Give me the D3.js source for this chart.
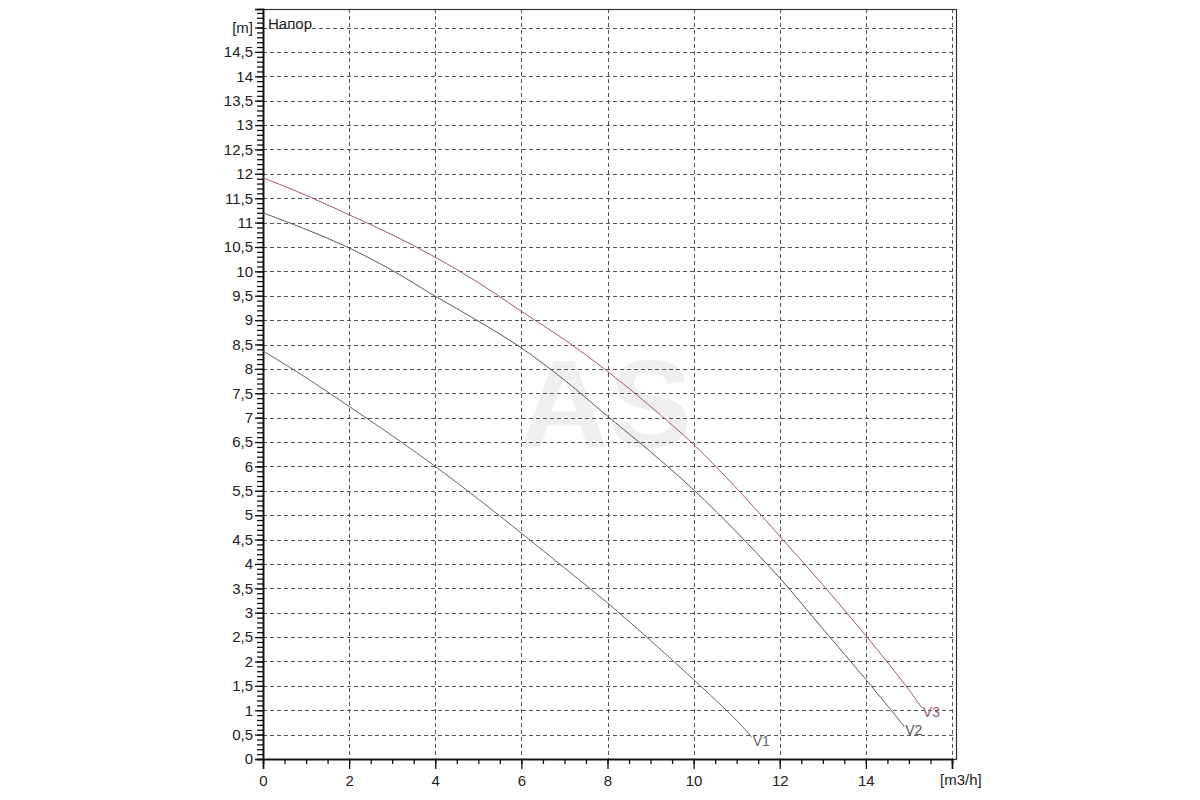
<!DOCTYPE html>
<html>
<head>
<meta charset="utf-8">
<script src="https://cdnjs.cloudflare.com/ajax/libs/d3/7.8.5/d3.min.js"></script>
<style>
  body { margin: 0; background: #fff; }
  svg text { font-family: "Liberation Sans", Arial, sans-serif; }
</style>
</head>
<body>
<div id="chart"></div>
<script>
// pump curves: flow [m3/h] vs head [m]
var v1Flow = [0, 1, 2, 3, 4, 5, 6, 7, 8, 9, 10, 11, 11.35];
var v1Head = [8.37, 7.82, 7.23, 6.63, 6.0, 5.33, 4.63, 3.92, 3.2, 2.43, 1.63, 0.79, 0.45];

var v2Flow = [0, 1, 2, 3, 4, 5, 6, 7, 8, 9, 10, 11, 12, 13, 14, 14.89];
var v2Head = [11.2, 10.86, 10.48, 10.02, 9.49, 8.98, 8.43, 7.77, 7.03, 6.3, 5.52, 4.65, 3.71, 2.67, 1.63, 0.67];

var v3Flow = [0, 1, 2, 3, 4, 5, 6, 7, 8, 9, 10, 11, 12, 13, 14, 15, 15.3];
var v3Head = [11.92, 11.56, 11.16, 10.75, 10.29, 9.77, 9.18, 8.6, 7.95, 7.23, 6.45, 5.55, 4.57, 3.57, 2.53, 1.42, 1.05];

var seriesNames = ["V1", "V2", "V3"];
var seriesColors = ["#666666", "#585858", "#a05868"];

var xMajor = d3.range(0, 16.01, 2);      // 0..16
var yMajor = d3.range(0, 15.01, 0.5);    // 0..15

var svgWidth = 1200;
var svgHeight = 800;

// plot edges (note: "top" is reserved on window)
var plotLeft = 263, plotRight = 952, plotTop = 9, plotBottom = 759;

var svg = d3.select("#chart").append("svg")
  .attr("width", svgWidth)
  .attr("height", svgHeight);

var xScale = d3.scaleLinear().domain([0, 16]).range([plotLeft, plotRight]);
var yScale = d3.scaleLinear().domain([0, 15.38]).range([plotBottom, plotTop]);

// watermark
svg.append("text")
  .attr("x", (xScale(6) + xScale(10)) / 2 - 2)
  .attr("y", yScale(6.4))
  .attr("text-anchor", "middle")
  .attr("font-size", 124)
  .attr("font-weight", "bold")
  .attr("fill", "#efefef")
  .text("AS");

// grid
var grid = svg.append("g").attr("stroke", "#555").attr("stroke-width", 1)
  .attr("stroke-dasharray", "4,3").attr("shape-rendering", "crispEdges");

grid.selectAll(".hg")
  .data(yMajor.filter(function(d) { return d > 0; }))
  .enter().append("line")
  .attr("x1", plotLeft).attr("x2", plotRight + 3)
  .attr("y1", function(d) { return Math.round(yScale(d)) + 0.5; })
  .attr("y2", function(d) { return Math.round(yScale(d)) + 0.5; });

grid.selectAll(".vg")
  .data(xMajor.filter(function(d) { return d > 0; }))
  .enter().append("line")
  .attr("y1", plotTop).attr("y2", plotBottom)
  .attr("x1", function(d) { return Math.round(xScale(d)) + 0.5; })
  .attr("x2", function(d) { return Math.round(xScale(d)) + 0.5; });

// frame
svg.append("rect")
  .attr("x", plotLeft + 0.5).attr("y", plotTop + 0.5)
  .attr("width", plotRight + 4 - plotLeft).attr("height", plotBottom - plotTop)
  .attr("fill", "none").attr("stroke", "#333").attr("stroke-width", 1.2);

// axes
var yAxisMinor = d3.axisLeft(yScale).tickValues(d3.range(0, 15.31, 0.1)).tickSize(6).tickFormat("");
var yAxis = d3.axisLeft(yScale).tickValues(yMajor).tickSize(8).tickPadding(2)
  .tickFormat(function(d) { return d === 15 ? "[m]" : String(d).replace(".", ","); });

var xAxisMinor = d3.axisBottom(xScale).tickValues(d3.range(0, 16.01, 0.5)).tickSize(5).tickFormat("");
var xAxis = d3.axisBottom(xScale).tickValues(xMajor).tickSize(10).tickPadding(6)
  .tickFormat(function(d) { return d === 16 ? "" : d; });

function styleAxis(g) {
  g.attr("font-size", 15).attr("font-family", "'Liberation Sans', Arial, sans-serif");
  g.select(".domain").attr("stroke", "#111").attr("stroke-width", 1.5);
  g.selectAll(".tick line").attr("stroke", "#111").attr("stroke-width", 1.3);
  g.selectAll("text").attr("fill", "#222");
}

svg.append("g").attr("transform", "translate(" + plotLeft + ",0)").call(yAxisMinor).call(styleAxis);
svg.append("g").attr("transform", "translate(" + plotLeft + ",0)").call(yAxis).call(styleAxis);
svg.append("g").attr("transform", "translate(0," + plotBottom + ")").call(xAxisMinor).call(styleAxis);
svg.append("g").attr("transform", "translate(0," + plotBottom + ")").call(xAxis).call(styleAxis);

// axis labels
svg.append("text")
  .attr("x", plotLeft + 5).attr("y", 29)
  .attr("font-size", 15).attr("fill", "#222")
  .text("Напор");

svg.append("text")
  .attr("x", xScale(16) - 12).attr("y", 785)
  .attr("font-size", 15).attr("fill", "#222")
  .text("[m3/h]");

// curves
var series = [
  { name: seriesNames[0], flow: v1Flow, head: v1Head, color: seriesColors[0] },
  { name: seriesNames[1], flow: v2Flow, head: v2Head, color: seriesColors[1] },
  { name: seriesNames[2], flow: v3Flow, head: v3Head, color: seriesColors[2] }
];

var line = d3.line()
  .x(function(d) { return xScale(d[0]); })
  .y(function(d) { return yScale(d[1]); })
  .curve(d3.curveCatmullRom);

series.forEach(function(s) {
  var pts = s.flow.map(function(f, i) { return [f, s.head[i]]; });
  svg.append("path")
    .datum(pts)
    .attr("d", line)
    .attr("fill", "none")
    .attr("stroke", s.color)
    .attr("stroke-width", 1);

  var last = pts[pts.length - 1];
  svg.append("text")
    .attr("x", xScale(last[0]) + 1)
    .attr("y", yScale(last[1]) + 9)
    .attr("font-size", 14)
    .attr("fill", s.color)
    .text(s.name);
});
</script>
</body>
</html>
